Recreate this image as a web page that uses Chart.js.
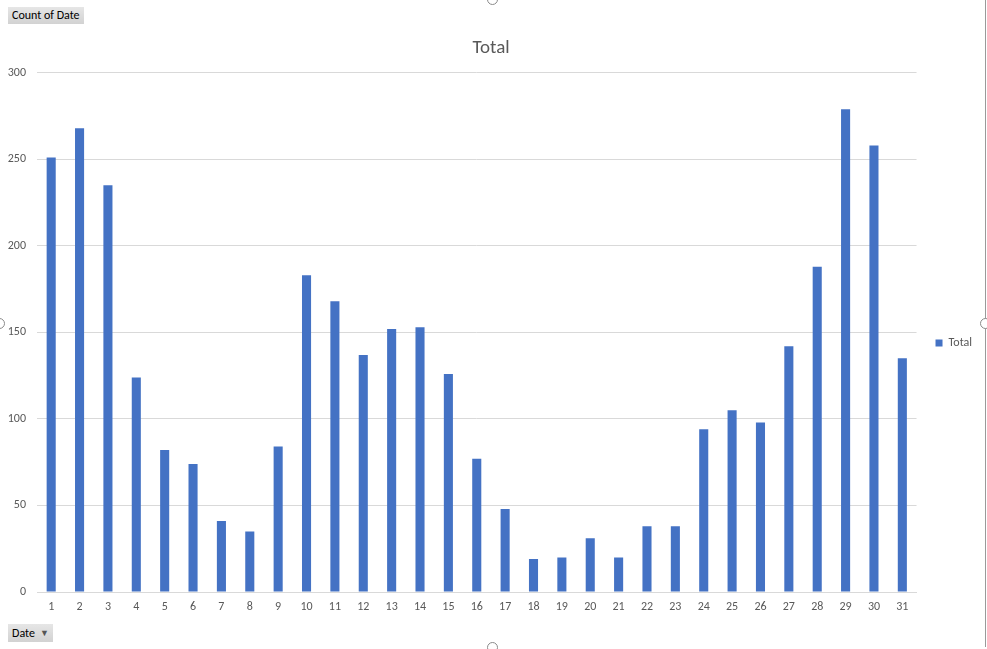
<!DOCTYPE html>
<html>
<head>
<meta charset="utf-8">
<script src="https://cdn.jsdelivr.net/npm/chart.js@4"></script>
<style>
  html, body { margin: 0; padding: 0; background: #fff; }
  #wrap { position: relative; width: 987px; height: 649px; overflow: hidden; font-family: Calibri, Carlito, Lato, sans-serif; }
  .btn { position: absolute; background: linear-gradient(#e6e6e6, #d2d2d2); color: #000; font-size: 12px; line-height: 17px; padding: 0 4px; }
  .arrow { font-size: 9px; color: #555; margin-left: 5px; vertical-align: 1px; }
  #frame { position: absolute; right: 1px; top: 0; width: 1px; height: 647px; background: #9a9a9a; }
  .handle { position: absolute; width: 9px; height: 9px; border: 1px solid #8a8a8a; border-radius: 50%; background: #fff; }
</style>
</head>
<body>
<div id="wrap">
  <canvas id="myChart" width="987" height="649"></canvas>
  <div id="frame"></div>
  <div class="handle" style="left:487px; top:-6px"></div>
  <div class="handle" style="left:-6px; top:318px"></div>
  <div class="handle" style="left:980px; top:318px"></div>
  <div class="handle" style="left:487px; top:642px"></div>
  <div class="btn" style="left:8px; top:7px;">Count of Date</div>
  <div class="btn" style="left:8px; top:624px;">Date<span class="arrow">&#9660;</span></div>
</div>
<script>
// chart data
const days = ['1','2','3','4','5','6','7','8','9','10','11','12','13','14','15','16',
              '17','18','19','20','21','22','23','24','25','26','27','28','29','30','31'];
const totals = [251, 268, 235, 124, 82, 74, 41, 35, 84, 183, 168, 137, 152, 153, 126, 77,
                48, 19, 20, 31, 20, 38, 38, 94, 105, 98, 142, 188, 279, 258, 135];
const yTicks = [0, 50, 100, 150, 200, 250, 300];

const font = 'Calibri, Carlito, Lato, sans-serif';
const grey = '#595959';

const ctx = document.getElementById('myChart').getContext('2d');
const myChart = new Chart(ctx, {
    type: 'bar',
    data: {
        labels: days,
        datasets: [{
            label: 'Total',
            data: totals,
            backgroundColor: '#4472C4',
            categoryPercentage: 1,
            barPercentage: 0.32
        }]
    },
    options: {
        responsive: false,
        animation: false,
        layout: { padding: { top: 37, left: 0, bottom: 0, right: 5 } },
        plugins: {
            title: {
                display: true,
                text: 'Total',
                color: grey,
                font: { family: font, size: 19, weight: 'normal' },
                padding: { top: 0, bottom: 13 }
            },
            legend: {
                position: 'right',
                labels: {
                    boxWidth: 7,
                    boxHeight: 7,
                    color: grey,
                    font: { family: font, size: 12 },
                    padding: 19
                }
            },
            tooltip: { enabled: false }
        },
        scales: {
            x: {
                grid: { display: false, drawTicks: false },
                border: { display: true, color: '#D9D9D9' },
                ticks: { color: grey, font: { family: font, size: 12 }, padding: 8, maxRotation: 0 },
                afterFit: scale => { scale.height = 57; }
            },
            y: {
                min: 0,
                max: 300,
                afterBuildTicks: scale => { scale.ticks = yTicks.map(v => ({ value: v })); },
                grid: { color: '#D9D9D9', drawTicks: false },
                border: { display: false },
                ticks: { color: grey, font: { family: font, size: 12 }, padding: 11 },
                afterFit: scale => { scale.width = 37; }
            }
        }
    }
});
</script>
</body>
</html>
